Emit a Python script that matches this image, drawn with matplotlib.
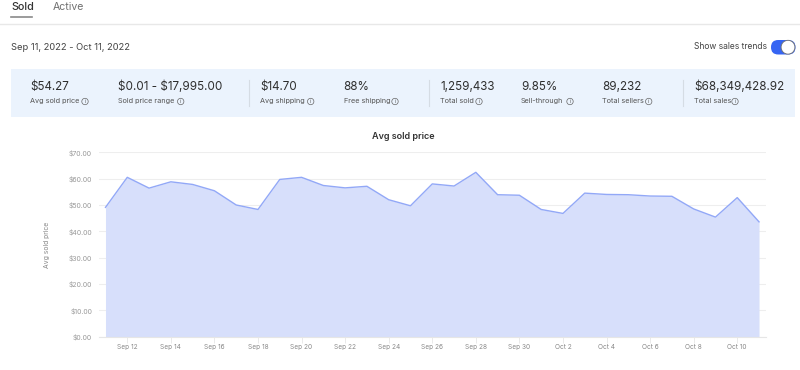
import matplotlib
matplotlib.use("Agg")
import matplotlib.pyplot as plt
from matplotlib.patches import Rectangle, FancyBboxPatch, Circle

# daily avg sold price, Sep 11 - Oct 11
prices = [49.1, 60.5, 56.4, 58.8, 57.8, 55.4, 50.0, 48.3, 59.7, 60.5, 57.4,
          56.5, 57.1, 52.0, 49.7, 58.0, 57.2, 62.4, 53.9, 53.7, 48.3, 46.8,
          54.5, 54.0, 53.9, 53.4, 53.3, 48.5, 45.4, 52.8, 43.6]
days = list(range(len(prices)))
tick_days = list(range(1, 31, 2))
tick_labels = ["Sep 12", "Sep 14", "Sep 16", "Sep 18", "Sep 20", "Sep 22", "Sep 24",
               "Sep 26", "Sep 28", "Sep 30", "Oct 2", "Oct 4", "Oct 6", "Oct 8", "Oct 10"]
y_ticks = [0, 10, 20, 30, 40, 50, 60, 70]
y_labels = ["$%d.00" % v for v in y_ticks]

# (value, label, x pos of text, info icon x)
stats = [("$54.27", "Avg sold price", 30.5, 85),
         ("$0.01 - $17,995.00", "Sold price range", 118.5, 180.7),
         ("$14.70", "Avg shipping", 260, 310.7),
         ("88%", "Free shipping", 343.5, 395),
         ("1,259,433", "Total sold", 440.5, 479),
         ("9.85%", "Sell-through", 521, 570),
         ("89,232", "Total sellers", 602.5, 648.7),
         ("$68,349,428.92", "Total sales", 694, 735)]
dividers = [248.5, 428.5, 682.5]

W, H = 800, 370
plt.rcParams['font.family'] = ['Inter', 'DejaVu Sans']

fig = plt.figure(figsize=(W / 100, H / 100), dpi=100)

# page furniture is laid out in pixels on a full size axes
bg = fig.add_axes([0, 0, 1, 1])
bg.set_xlim(0, W)
bg.set_ylim(H, 0)
bg.axis("off")

bg.text(11, 7.5, "Sold", fontsize=7.8, color="#333333", va="center", fontweight="medium")
bg.text(53, 7.5, "Active", fontsize=7.6, color="#707070", va="center")
bg.plot([11, 32], [17, 17], color="#8a8a8a", lw=1.2)
bg.plot([0, 800], [23.5, 23.5], color="#e8e8e8", lw=1)
bg.text(11, 47, "Sep 11, 2022 - Oct 11, 2022", fontsize=6.7, color="#444444", va="center")

bg.text(694, 46.5, "Show sales trends", fontsize=6.1, color="#444444", va="center")
bg.add_patch(FancyBboxPatch((771, 40), 24.5, 14.5, boxstyle="round,pad=0,rounding_size=7.2",
                            fc="#3665f3", ec="none"))
bg.add_patch(Circle((788, 47.2), 6.9, fc="white", ec="#707070", lw=0.6))

bg.add_patch(Rectangle((11, 68.5), 784, 48.5, fc="#ebf3fd", ec="none"))
for x in dividers:
    bg.plot([x, x], [80, 106], color="#d5dce4", lw=0.8)
for value, label, x, icon_x in stats:
    bg.text(x, 87, value, fontsize=8.4, color="#2e2e2e", va="center", parse_math=False)
    bg.text(x, 101, label, fontsize=5.25, color="#555555", va="center")
    bg.add_patch(Circle((icon_x, 101.5), 3.2, fc="none", ec="#666666", lw=0.5))
    bg.text(icon_x, 101.5, "i", fontsize=4, color="#666666", va="center", ha="center")

bg.text(403, 136.5, "Avg sold price", fontsize=6.5, color="#333333", va="center",
        ha="center", fontweight="semibold")

# chart axes: y 0 -> 336.7px, 70 -> 152.3px, x from 99px to 766px
ax = fig.add_axes([99 / W, 1 - 336.7 / H, 667 / W, 184.4 / H])
ax.set_xlim(-0.298, 30.32)
ax.set_ylim(0, 70)
ax.patch.set_alpha(0)
ax.fill_between(days, prices, 0, color="#d7dffb", lw=0, zorder=2)
ax.plot(days, prices, color="#92a8f7", lw=1, zorder=3)
ax.set_yticks(y_ticks)
ax.set_yticklabels(y_labels, fontsize=5, color="#999999")
ax.set_xticks(tick_days)
ax.set_xticklabels(tick_labels, fontsize=4.7, color="#888888")
ax.grid(axis="y", color="#eeeeee", lw=0.8, zorder=1)
ax.tick_params(axis="y", length=0, pad=5)
ax.tick_params(axis="x", length=4, width=0.7, color="#eaeaea", pad=1.2)
for side in ["top", "right", "left"]:
    ax.spines[side].set_visible(False)
ax.spines["bottom"].set_color("#e6e6e6")
ax.spines["bottom"].set_linewidth(0.8)
ax.set_axisbelow(True)

bg.text(47, 244.5, "Avg sold price", fontsize=4.9, color="#888888", va="center",
        ha="center", rotation=90)

fig.savefig("out.png", dpi=100)
